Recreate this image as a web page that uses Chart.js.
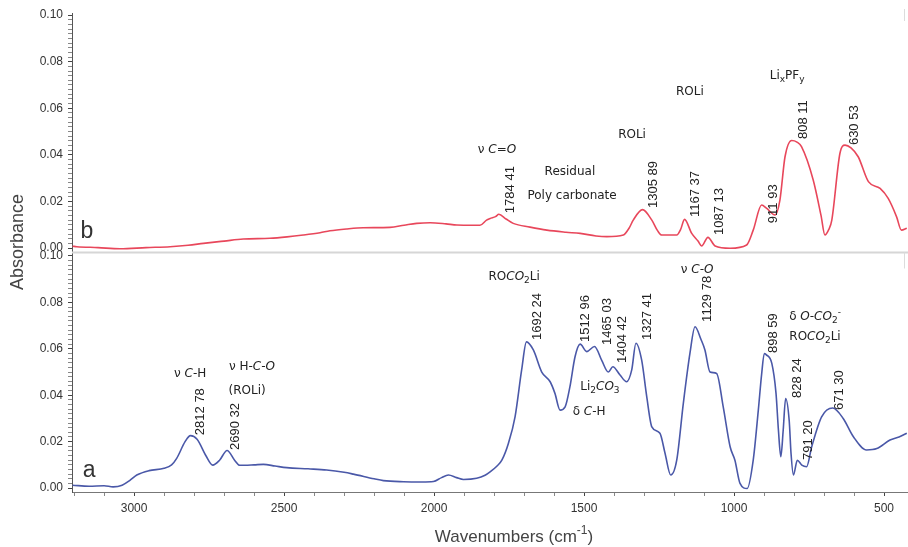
<!DOCTYPE html>
<html>
<head>
<meta charset="utf-8">
<script src="https://cdn.jsdelivr.net/npm/chart.js@4.4.0/dist/chart.umd.min.js"></script>
<style>
  html, body { margin: 0; padding: 0; background: #fff; }
  #wrap { width: 908px; height: 547px; }
</style>
</head>
<body>
<div id="wrap"><canvas id="spectra"></canvas></div>
<script>
// ---------- DATA ----------
// spectrum a (bottom, blue)
const aWave = [3205, 3150, 3100, 3070, 3040, 3013, 2991, 2950, 2900, 2875, 2858, 2830, 2812, 2790, 2760, 2738,
  2715, 2690, 2665, 2648, 2600, 2569, 2530, 2491, 2420, 2358, 2300, 2269, 2200, 2169, 2102, 2040, 2002, 1975,
  1952, 1925, 1902, 1858, 1830, 1813, 1790, 1774, 1752, 1730, 1708, 1692, 1669, 1641, 1613, 1597, 1580, 1563,
  1547, 1530, 1513, 1491, 1465, 1441, 1419, 1404, 1380, 1358, 1341, 1327, 1308, 1291, 1274, 1247, 1230, 1211,
  1191, 1169, 1147, 1130, 1110, 1097, 1080, 1058, 1036, 1013, 997, 980, 956, 936, 919, 908, 899, 893, 874, 860,
  852, 844, 836, 828, 816, 810, 802, 789, 774, 758, 741, 708, 671, 636, 602, 558, 524, 480, 450, 424];
const aAbs = [0.0012, 0.0008, 0.0010, 0.0005, 0.0012, 0.0034, 0.0056, 0.0075, 0.0085, 0.0100, 0.0128, 0.0200,
  0.0226, 0.0210, 0.0138, 0.0099, 0.0120, 0.0162, 0.0120, 0.0098, 0.0100, 0.0102, 0.0095, 0.0088, 0.0083, 0.0078,
  0.0068, 0.0060, 0.0040, 0.0032, 0.0027, 0.0026, 0.0028, 0.0045, 0.0056, 0.0045, 0.0037, 0.0042, 0.0055, 0.0070,
  0.0095, 0.0120, 0.0193, 0.0307, 0.0509, 0.0630, 0.0595, 0.0500, 0.0458, 0.0408, 0.0336, 0.0350, 0.0437, 0.0566,
  0.0620, 0.0588, 0.0610, 0.0550, 0.0500, 0.0523, 0.0487, 0.0458, 0.0509, 0.0624, 0.0552, 0.0394, 0.0264, 0.0236,
  0.0150, 0.0056, 0.0120, 0.0365, 0.0580, 0.0695, 0.0640, 0.0595, 0.0500, 0.0494, 0.0350, 0.0178, 0.0120, 0.0020,
  -0.0002, 0.0120, 0.0336, 0.0490, 0.0580, 0.0575, 0.0537, 0.0408, 0.0250, 0.0135, 0.0250, 0.0386, 0.0290, 0.0150,
  0.0056, 0.0120, 0.0099, 0.0092, 0.0178, 0.0307, 0.0345, 0.0300, 0.0221, 0.0164, 0.0170, 0.0207, 0.0220, 0.0236];

// spectrum b (top, red)
const bWave = [3205, 3191, 3120, 3047, 2960, 2880, 2820, 2769, 2700, 2636, 2547, 2490, 2436, 2380, 2347, 2290,
  2236, 2147, 2100, 2058, 2013, 1960, 1924, 1870, 1847, 1825, 1813, 1795, 1784, 1760, 1736, 1680, 1624, 1560,
  1513, 1460, 1424, 1369, 1350, 1336, 1305, 1274, 1255, 1241, 1191, 1178, 1165, 1141, 1120, 1108, 1087, 1063,
  1013, 958, 936, 908, 891, 863, 847, 830, 808, 790, 775, 736, 710, 697, 684, 674, 647, 630, 610, 586, 552, 513,
  486, 458, 442, 424];
const bAbs = [0.0008, 0.0006, 0.0002, -0.0003, 0.0002, 0.0006, 0.0012, 0.0020, 0.0030, 0.0039, 0.0042, 0.0048,
  0.0056, 0.0066, 0.0074, 0.0082, 0.0087, 0.0089, 0.0098, 0.0106, 0.0109, 0.0104, 0.0099, 0.0098, 0.0098, 0.0120,
  0.0127, 0.0135, 0.0145, 0.0125, 0.0106, 0.0090, 0.0077, 0.0068, 0.0063, 0.0052, 0.0049, 0.0056, 0.0085, 0.0120,
  0.0165, 0.0120, 0.0075, 0.0056, 0.0056, 0.0080, 0.0123, 0.0063, 0.0030, 0.0009, 0.0046, 0.0009, -0.0001, 0.0013,
  0.0077, 0.0185, 0.0170, 0.0142, 0.0206, 0.0392, 0.0462, 0.0455, 0.0435, 0.0292, 0.0140, 0.0056, 0.0080, 0.0120,
  0.0406, 0.0442, 0.0430, 0.0392, 0.0285, 0.0256, 0.0213, 0.0134, 0.0077, 0.0085];

// peak numbers, written upward: [text, wavenumber, absorbance at text start]
const bPeaks = [["1784 41", 1747, 0.0150], ["1305 89", 1270, 0.0172], ["1167 37", 1130, 0.0133],
  ["1087 13", 1050, 0.0056], ["911 93", 870, 0.0107], ["808 11", 770, 0.0468], ["630 53", 600, 0.0442]];
const aPeaks = [["2812 78", 2780, 0.0228], ["2690 32", 2663, 0.0164], ["1692 24", 1657, 0.0638],
  ["1512 96", 1497, 0.0629], ["1465 03", 1423, 0.0616], ["1404 42", 1373, 0.0539], ["1327 41", 1290, 0.0638],
  ["1129 78", 1090, 0.0716], ["898 59", 870, 0.0582], ["828 24", 790, 0.0388], ["791 20", 753, 0.0121],
  ["671 30", 647, 0.0336]];

// band assignments: [parts, wavenumber, absorbance]; part = [text, "i" italic | "s" sub | "S" sup]
const bNotes = [
  [[["ν "], ["C=O", "i"]], 1790, 0.0421],
  [[["Residual"]], 1547, 0.0326],
  [[["Poly carbonate"]], 1540, 0.0223],
  [[["ROLi"]], 1340, 0.0485],
  [[["ROLi"]], 1147, 0.0670],
  [[["Li"], ["x", "s"], ["PF"], ["y", "s"]], 823, 0.0738]
];
const aNotes = [
  [[["ν "], ["C", "i"], ["-H"]], 2813, 0.0491],
  [[["ν H-"], ["C-O", "i"]], 2607, 0.0522],
  [[["(ROLi)"]], 2623, 0.0418],
  [[["RO"], ["CO", "i"], ["2", "s"], ["Li"]], 1733, 0.0909],
  [[["Li"], ["2", "s"], ["CO", "i"], ["3", "s"]], 1447, 0.0435],
  [[["δ "], ["C", "i"], ["-H"]], 1483, 0.0328],
  [[["ν "], ["C-O", "i"]], 1123, 0.0940],
  [[["δ "], ["O-CO", "i"], ["2", "s"], ["-", "S"]], 730, 0.0737],
  [[["RO"], ["CO", "i"], ["2", "s"], ["Li"]], 730, 0.0651]
];

// panel letters: [text, wavenumber, absorbance of baseline]
const bTag = ["b", 3157, 0.0043];
const aTag = ["a", 3150, 0.0047];

const xTitle = [["Wavenumbers (cm"], ["-1", "S"], [")"]];
const yTitle = "Absorbance";

// ---------- HELPERS ----------
const NOTE_FONT = '"DejaVu Sans", sans-serif';
const NUM_FONT = '"Liberation Sans", Arial, sans-serif';

function partFont(style, size, family) {
  const small = style === "s" || style === "S";
  const it = style === "i" ? "italic " : "";
  return it + (small ? Math.round(size * 0.72) : size) + "px " + family;
}

function drawRich(ctx, parts, cx, cy, size, family) {
  let total = 0;
  parts.forEach(p => {
    ctx.font = partFont(p[1], size, family);
    total += ctx.measureText(p[0]).width;
  });
  let x = cx - total / 2;
  ctx.textAlign = "left";
  ctx.textBaseline = "middle";
  parts.forEach(p => {
    ctx.font = partFont(p[1], size, family);
    let dy = 0;
    if (p[1] === "s") dy = size * 0.3;
    if (p[1] === "S") dy = -size * 0.35;
    ctx.fillText(p[0], x, cy + dy);
    x += ctx.measureText(p[0]).width;
  });
}

function isStep(v, step) {
  const k = v / step;
  return Math.abs(k - Math.round(k)) < 1e-6;
}

// ---------- ANNOTATION PLUGIN ----------
const spectrumText = {
  id: "spectrumText",
  afterDatasetsDraw(chart) {
    const { ctx, chartArea, scales } = chart;
    const x = scales.x, yA = scales.yA, yB = scales.yB;
    ctx.save();

    // panel divider
    ctx.strokeStyle = "#d6d6d6";
    ctx.lineWidth = 2;
    ctx.beginPath();
    ctx.moveTo(chartArea.left, yB.bottom);
    ctx.lineTo(chartArea.right, yB.bottom);
    ctx.stroke();
    ctx.lineWidth = 1;
    ctx.strokeStyle = "#dcdcdc";
    ctx.beginPath();
    ctx.moveTo(chartArea.right - 3.5, yB.bottom);
    ctx.lineTo(chartArea.right - 3.5, yB.bottom + 16);
    ctx.moveTo(chartArea.right - 3.5, yB.top - 4);
    ctx.lineTo(chartArea.right - 3.5, yB.top + 8);
    ctx.stroke();

    ctx.fillStyle = "#222";
    const peaks = (list, ys) => list.forEach(p => {
      ctx.save();
      ctx.translate(x.getPixelForValue(p[1]), ys.getPixelForValue(p[2]));
      ctx.rotate(-Math.PI / 2);
      ctx.font = "13px " + NUM_FONT;
      ctx.textAlign = "left";
      ctx.textBaseline = "middle";
      ctx.fillText(p[0], 0, 0);
      ctx.restore();
    });
    peaks(bPeaks, yB);
    peaks(aPeaks, yA);

    const notes = (list, ys) => list.forEach(n => {
      drawRich(ctx, n[0], x.getPixelForValue(n[1]), ys.getPixelForValue(n[2]), 12, NOTE_FONT);
    });
    notes(bNotes, yB);
    notes(aNotes, yA);

    // panel letters
    ctx.fillStyle = "#333";
    ctx.font = "23px " + NUM_FONT;
    ctx.textAlign = "center";
    ctx.textBaseline = "alphabetic";
    ctx.fillText(bTag[0], x.getPixelForValue(bTag[1]), yB.getPixelForValue(bTag[2]));
    ctx.fillText(aTag[0], x.getPixelForValue(aTag[1]), yA.getPixelForValue(aTag[2]));

    // axis titles
    ctx.fillStyle = "#444";
    drawRich(ctx, xTitle, 514, 537, 17, NUM_FONT);
    ctx.save();
    ctx.translate(18, 242);
    ctx.rotate(-Math.PI / 2);
    ctx.font = "18px " + NUM_FONT;
    ctx.textAlign = "center";
    ctx.textBaseline = "middle";
    ctx.fillText(yTitle, 0, 0);
    ctx.restore();

    ctx.restore();
  }
};

// ---------- AXES ----------
function yAxis(min, max) {
  return {
    type: "linear",
    position: "left",
    stack: "panels",
    stackWeight: 1,
    min: min,
    max: max,
    afterFit: s => { s.width = 72; },
    border: { color: "#555", width: 1 },
    grid: {
      drawOnChartArea: false,
      tickLength: 4,
      tickColor: c => {
        const v = c.tick ? c.tick.value : 0;
        if (v < -1e-9 || v > 0.1 + 1e-9) return "rgba(0,0,0,0)";
        return isStep(v, 0.02) ? "#444" : "#888";
      }
    },
    ticks: {
      stepSize: 0.002,
      includeBounds: false,
      autoSkip: false,
      padding: 5,
      color: "#333",
      font: { family: NUM_FONT, size: 12 },
      callback: v => (v >= -1e-9 && v <= 0.1 + 1e-9 && isStep(v, 0.02)) ? Math.abs(v).toFixed(2) : ""
    }
  };
}

new Chart(document.getElementById("spectra"), {
  type: "line",
  data: {
    datasets: [
      {
        label: "a",
        data: aWave.map((w, i) => ({ x: w, y: aAbs[i] })),
        yAxisID: "yA",
        borderColor: "#4a58a8",
        borderWidth: 1.6,
        pointRadius: 0,
        cubicInterpolationMode: "monotone",
        fill: false
      },
      {
        label: "b",
        data: bWave.map((w, i) => ({ x: w, y: bAbs[i] })),
        yAxisID: "yB",
        borderColor: "#e8475b",
        borderWidth: 1.6,
        pointRadius: 0,
        cubicInterpolationMode: "monotone",
        fill: false
      }
    ]
  },
  options: {
    responsive: true,
    maintainAspectRatio: false,
    animation: false,
    layout: { padding: { top: 13, left: 0, right: 0, bottom: 0 } },
    plugins: { legend: { display: false }, tooltip: { enabled: false } },
    scales: {
      x: {
        type: "linear",
        reverse: true,
        min: 420,
        max: 3207,
        afterFit: s => { s.height = 55; },
        border: { color: "#777", width: 1 },
        grid: {
          drawOnChartArea: false,
          tickLength: 4,
          tickColor: c => {
            const v = c.tick ? c.tick.value : 0;
            if (!isStep(v, 100)) return "rgba(0,0,0,0)";
            return isStep(v, 500) ? "#444" : "#888";
          }
        },
        ticks: {
          stepSize: 100,
          includeBounds: false,
          autoSkip: false,
          maxRotation: 0,
          padding: 5,
          color: "#333",
          font: { family: NUM_FONT, size: 12 },
          callback: v => isStep(v, 500) ? String(v) : ""
        }
      },
      yA: yAxis(-0.0017, 0.1015),
      yB: yAxis(-0.0019, 0.1009)
    }
  },
  plugins: [spectrumText]
});
</script>
</body>
</html>
